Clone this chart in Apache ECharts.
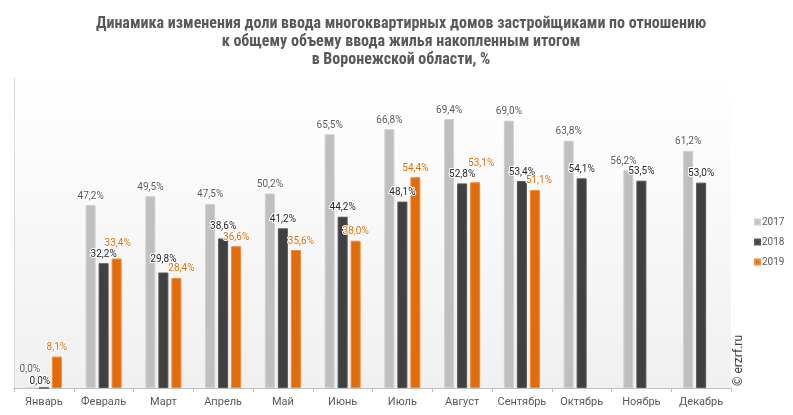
<!DOCTYPE html>
<html><head><meta charset="utf-8">
<script src="https://cdn.jsdelivr.net/npm/echarts@6/dist/echarts.min.js"></script>
<style>html,body{margin:0;padding:0;background:#fff}#c{width:793px;height:415px}</style>
</head><body><div id="c"></div>
<script>
var categories = ['Январь','Февраль','Март','Апрель','Май','Июнь','Июль','Август','Сентябрь','Октябрь','Ноябрь','Декабрь'];
var seriesNames = ['2017','2018','2019'];
var values2017 = [0.0, 47.2, 49.5, 47.5, 50.2, 65.5, 66.8, 69.4, 69.0, 63.8, 56.2, 61.2];
var values2018 = [0.0, 32.2, 29.8, 38.6, 41.2, 44.2, 48.1, 52.8, 53.4, 54.1, 53.5, 53.0];
var values2019 = [8.1, 33.4, 28.4, 36.6, 35.6, 38.0, 54.4, 53.1, 51.1, null, null, null];

var colors = ['#bfbfbf', '#404040', '#e36c0a'];
var labelColors = ['#595959', '#262626', '#e36c0a'];
// label nudges [dx, dy] per series/category index (style only)
var nudges = [
  {0: [-1, -9], 10: [-5, 0]},
  {0: [-4, 3], 2: [0, -4], 3: [0, -3]},
  {1: [1, -6], 2: [5, 0], 4: [5, 0], 7: [6, -10], 8: [4, 0]}
];

function fmt(v) { return v.toFixed(1).replace('.', ',') + '%'; }

function buildSeries(idx, vals) {
  return {
    name: seriesNames[idx],
    type: 'bar',
    barWidth: 10,
    barGap: '30%',
    itemStyle: { color: colors[idx], borderColor: idx === 2 ? '#f08a3a' : (idx === 1 ? '#555' : '#cfcfcf'), borderWidth: 1 },
    data: vals.map(function (v, i) {
      var item = { value: v };
      var n = nudges[idx][i];
      if (n) item.label = { offset: n };
      return item;
    }),
    label: {
      show: true,
      position: 'top',
      distance: 4,
      fontSize: 10,
      fontFamily: 'Roboto, Arial, sans-serif',
      color: labelColors[idx],
      textBorderColor: '#fff',
      textBorderWidth: 2,
      formatter: function (p) { return p.value == null ? '' : fmt(p.value); }
    }
  };
}

var chart = echarts.init(document.getElementById('c'), null, { renderer: 'canvas' });
chart.setOption({
  animation: false,
  backgroundColor: '#fff',
  title: {
    text: 'Динамика изменения доли ввода многоквартирных домов застройщиками по отношению\nк общему объему ввода жилья накопленным итогом\nв Воронежской области, %',
    left: 396,
    top: 10,
    textAlign: 'center',
    textStyle: {
      fontFamily: "'Roboto Condensed', 'Liberation Sans Narrow', Roboto, sans-serif",
      fontSize: 16, fontWeight: 'bold', color: '#595959', lineHeight: 18
    }
  },
  legend: {
    orient: 'vertical',
    left: 749,
    top: 211,
    itemWidth: 5,
    itemHeight: 5,
    itemGap: 8,
    icon: 'rect',
    textStyle: { fontSize: 10, color: '#595959', fontFamily: 'Roboto, Arial, sans-serif', padding: [0, 0, 0, -3], lineHeight: 12 },
    data: seriesNames
  },
  grid: {
    left: 14, right: 62, top: 78, bottom: 27,
    show: true,
    borderWidth: 0,
    backgroundColor: {
      type: 'linear', x: 0, y: 0, x2: 0, y2: 1,
      colorStops: [{ offset: 0, color: '#ffffff' }, { offset: 1, color: '#f0f0f0' }]
    }
  },
  xAxis: {
    type: 'category',
    data: categories,
    axisLine: { lineStyle: { color: '#bfbfbf' } },
    axisTick: { show: true, length: 4, lineStyle: { color: '#bfbfbf' } },
    axisLabel: { interval: 0, fontSize: 11, color: '#595959', margin: 9, fontFamily: 'Roboto, Arial, sans-serif' }
  },
  yAxis: {
    type: 'value', min: 0, max: 80,
    axisLine: { show: true, lineStyle: { color: '#d9d9d9' } },
    axisLabel: { show: false }, axisTick: { show: false }, splitLine: { show: false }
  },
  graphic: [{
    type: 'text',
    left: 733, top: 335,
    rotation: Math.PI / 2,
    style: { text: '© erzrf.ru', fontSize: 12, fill: '#404040', fontFamily: 'Roboto, Arial, sans-serif' }
  }],
  series: [buildSeries(0, values2017), buildSeries(1, values2018), buildSeries(2, values2019)]
});
</script></body></html>
